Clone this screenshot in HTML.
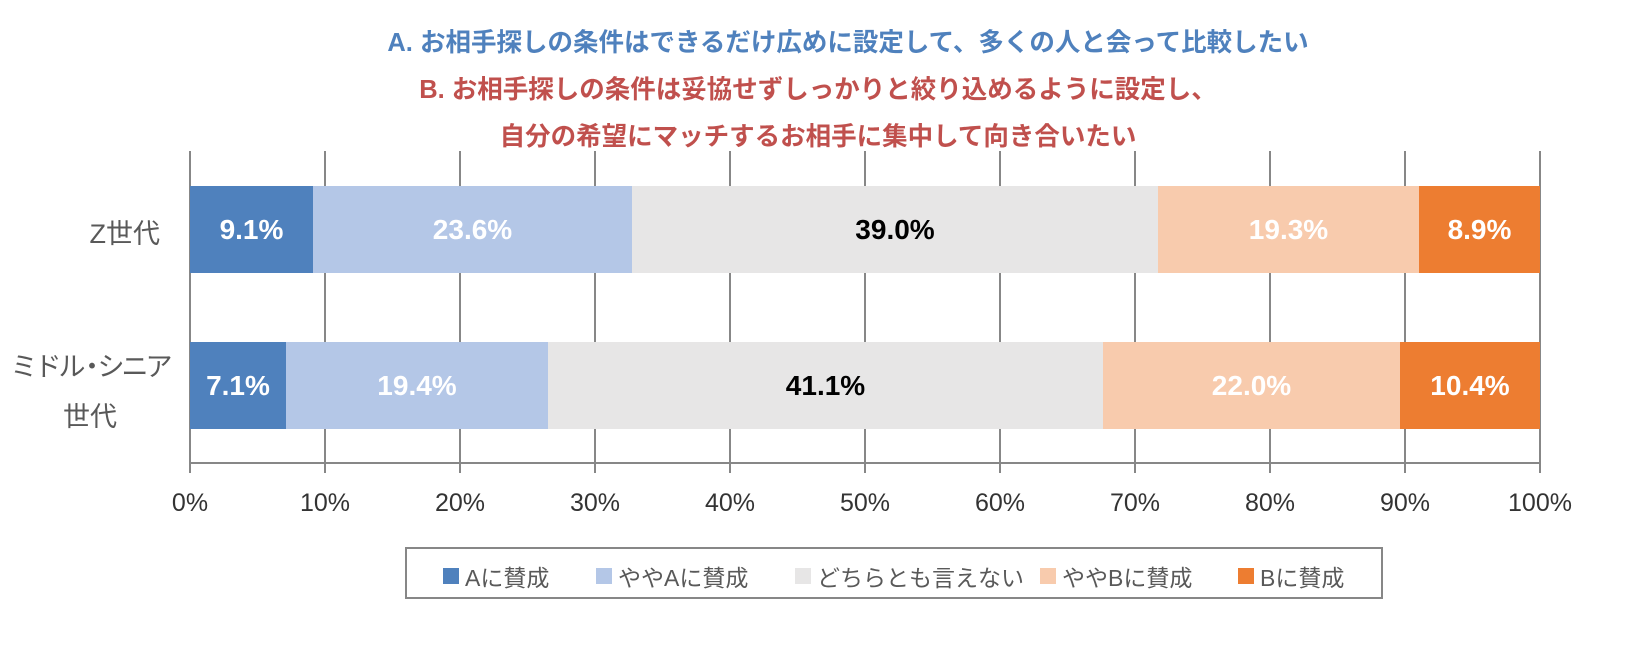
<!DOCTYPE html>
<html><head><meta charset="utf-8"><style>
body{margin:0;width:1636px;height:659px;background:#fff;position:relative;overflow:hidden;font-family:"Liberation Sans","Noto Sans CJK JP",sans-serif}
.t{position:absolute;left:0;width:1636px;text-align:center;font-weight:bold;font-size:25.5px}
.a{position:absolute}
.g{position:absolute;width:2px;background:#878787}
.seg{position:absolute;display:flex;align-items:center;justify-content:center;font-weight:bold;font-size:28px;color:#fff}
.tk{position:absolute;top:489px;width:120px;margin-left:-60px;text-align:center;font-size:25px;color:#333}
.lg{position:absolute;top:559px;font-size:23px;color:#595959;display:flex;align-items:center}
.lg i{display:inline-block;width:16px;height:16px;margin-right:6px}
</style></head><body>
<div class="t" style="top:22px;color:#4F81BD;padding-left:60px;box-sizing:border-box">A. お相手探しの条件はできるだけ広めに設定して、多くの人と会って比較したい</div>
<div class="t" style="top:69px;color:#C0504D">B. お相手探しの条件は妥協せずしっかりと絞り込めるように設定し、</div>
<div class="t" style="top:116px;color:#C0504D">自分の希望にマッチするお相手に集中して向き合いたい</div>

<div class="g" style="left:189px;top:151px;height:322px"></div>
<div class="g" style="left:324px;top:151px;height:322px"></div>
<div class="g" style="left:459px;top:151px;height:322px"></div>
<div class="g" style="left:594px;top:151px;height:322px"></div>
<div class="g" style="left:729px;top:151px;height:322px"></div>
<div class="g" style="left:864px;top:151px;height:322px"></div>
<div class="g" style="left:999px;top:151px;height:322px"></div>
<div class="g" style="left:1134px;top:151px;height:322px"></div>
<div class="g" style="left:1269px;top:151px;height:322px"></div>
<div class="g" style="left:1404px;top:151px;height:322px"></div>
<div class="g" style="left:1539px;top:151px;height:322px"></div>
<div class="a" style="left:189px;top:462px;width:1352px;height:2px;background:#878787"></div>

<div class="seg" style="left:190px;top:186px;width:123px;height:87px;background:#4F81BD">9.1%</div>
<div class="seg" style="left:313px;top:186px;width:319px;height:87px;background:#B4C7E7">23.6%</div>
<div class="seg" style="left:632px;top:186px;width:526px;height:87px;background:#E7E6E6;color:#000">39.0%</div>
<div class="seg" style="left:1158px;top:186px;width:261px;height:87px;background:#F8CBAD">19.3%</div>
<div class="seg" style="left:1419px;top:186px;width:121px;height:87px;background:#ED7D31">8.9%</div>

<div class="seg" style="left:190px;top:342px;width:96px;height:87px;background:#4F81BD">7.1%</div>
<div class="seg" style="left:286px;top:342px;width:262px;height:87px;background:#B4C7E7">19.4%</div>
<div class="seg" style="left:548px;top:342px;width:555px;height:87px;background:#E7E6E6;color:#000">41.1%</div>
<div class="seg" style="left:1103px;top:342px;width:297px;height:87px;background:#F8CBAD">22.0%</div>
<div class="seg" style="left:1400px;top:342px;width:140px;height:87px;background:#ED7D31">10.4%</div>

<div class="a" style="left:0;width:160px;top:212px;text-align:right;font-size:27px;color:#595959">Z世代</div>
<div class="a" style="left:10px;width:160px;top:342px;text-align:center;font-size:27px;color:#595959;line-height:50px;white-space:nowrap"><span style="letter-spacing:-3px">ミドル<span style="letter-spacing:-8px;margin-left:-4px">・</span>シニア</span><br>世代</div>

<div class="tk" style="left:190px">0%</div>
<div class="tk" style="left:325px">10%</div>
<div class="tk" style="left:460px">20%</div>
<div class="tk" style="left:595px">30%</div>
<div class="tk" style="left:730px">40%</div>
<div class="tk" style="left:865px">50%</div>
<div class="tk" style="left:1000px">60%</div>
<div class="tk" style="left:1135px">70%</div>
<div class="tk" style="left:1270px">80%</div>
<div class="tk" style="left:1405px">90%</div>
<div class="tk" style="left:1540px">100%</div>

<div class="a" style="left:405px;top:547px;width:974px;height:48px;border:2px solid #878787"></div>
<div class="lg" style="left:443px"><i style="background:#4F81BD"></i>Aに賛成</div>
<div class="lg" style="left:596px"><i style="background:#B4C7E7"></i>ややAに賛成</div>
<div class="lg" style="left:795px"><i style="background:#E7E6E6"></i>どちらとも言えない</div>
<div class="lg" style="left:1040px"><i style="background:#F8CBAD"></i>ややBに賛成</div>
<div class="lg" style="left:1238px"><i style="background:#ED7D31"></i>Bに賛成</div>
</body></html>
